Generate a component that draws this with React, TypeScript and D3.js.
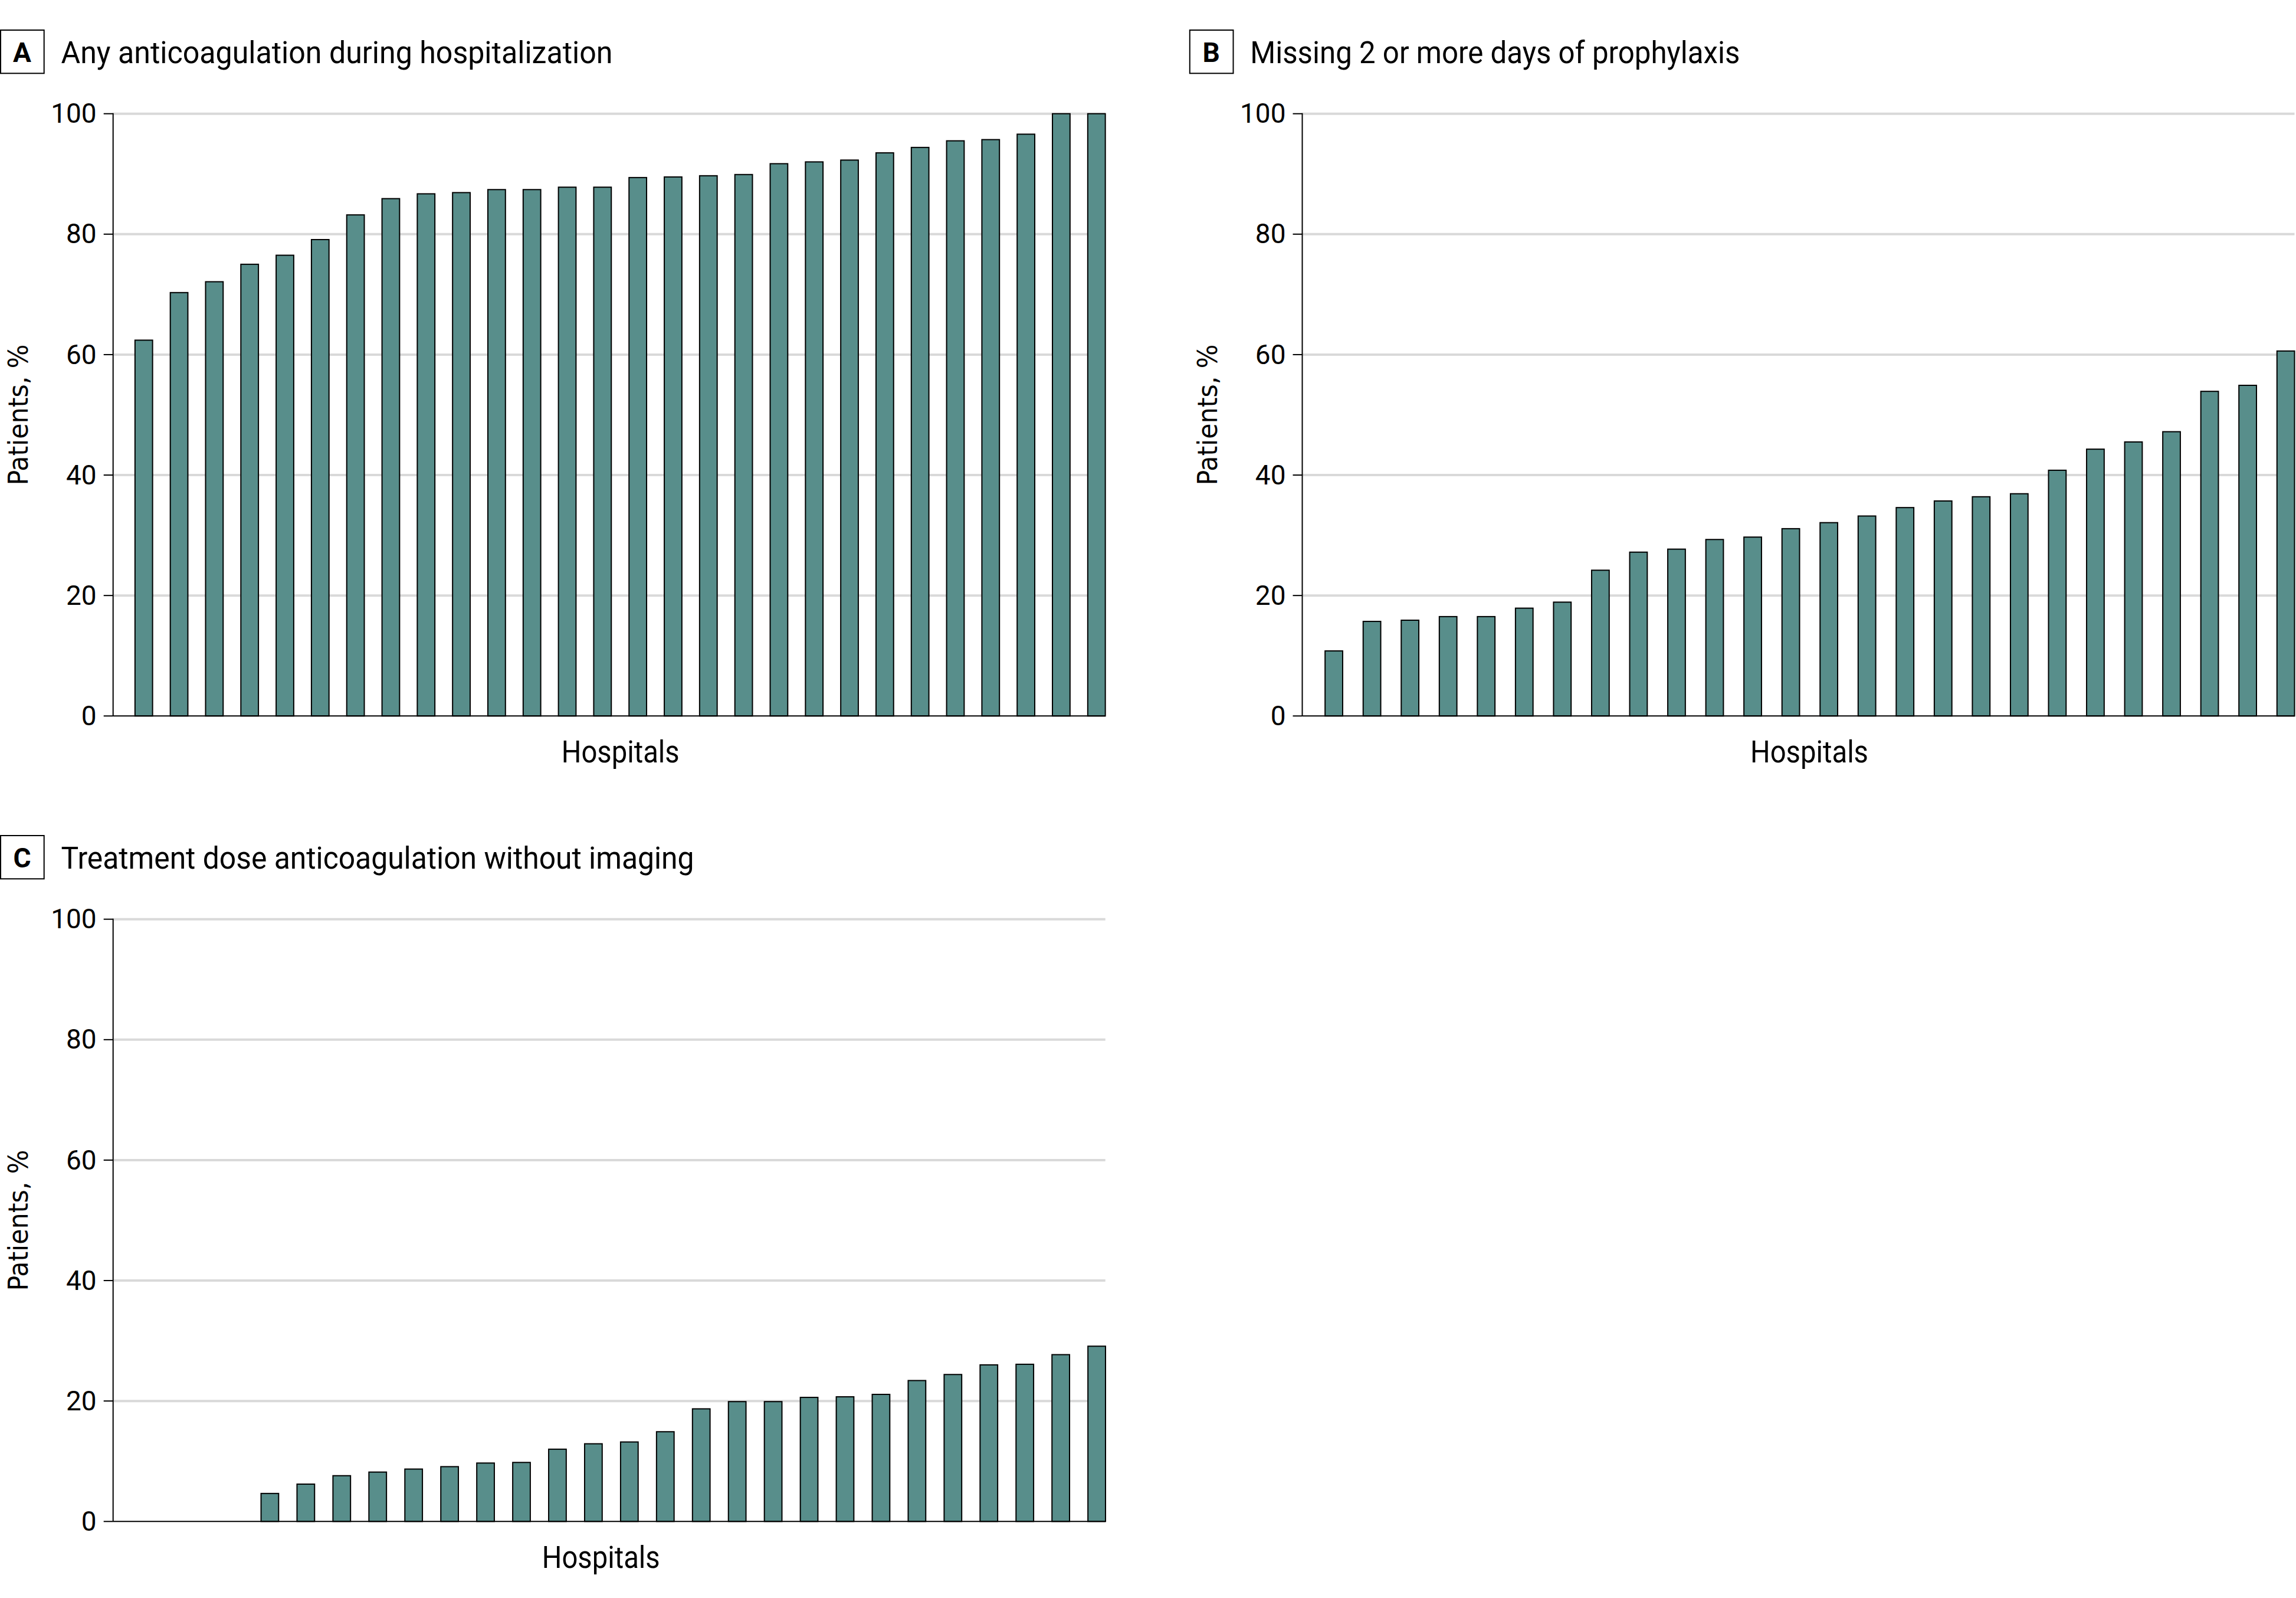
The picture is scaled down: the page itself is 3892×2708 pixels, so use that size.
import React from "react";
import * as d3 from "d3";

// ---------- data ----------
const panelLetters = ["A", "B", "C"];
const panelTitles = [
  "Any anticoagulation during hospitalization",
  "Missing 2 or more days of prophylaxis",
  "Treatment dose anticoagulation without imaging",
];
const yTicks = [0, 20, 40, 60, 80, 100];
const yLabel = "Patients, %";
const xLabel = "Hospitals";

const anyAnticoagulation = [
  62.4, 70.3, 72.1, 75.0, 76.5, 79.1, 83.2, 85.9, 86.7, 86.9, 87.4, 87.4, 87.8, 87.8,
  89.4, 89.5, 89.7, 89.9, 91.7, 92.0, 92.3, 93.5, 94.4, 95.5, 95.7, 96.6, 100, 100,
];
const missingProphylaxis = [
  10.8, 15.7, 15.9, 16.5, 16.5, 17.9, 18.9, 24.2, 27.2, 27.7, 29.3, 29.7, 31.1,
  32.1, 33.2, 34.6, 35.7, 36.4, 36.9, 40.8, 44.3, 45.5, 47.2, 53.9, 54.9, 60.6,
];
const treatmentWithoutImaging = [
  0, 0, 0, 0, 4.65, 6.2, 7.6, 8.2, 8.7, 9.1, 9.7, 9.8, 12.0, 12.9, 13.2, 14.9,
  18.7, 19.9, 19.9, 20.6, 20.7, 21.1, 23.4, 24.4, 26.0, 26.1, 27.7, 29.1,
];
const seriesList = [anyAnticoagulation, missingProphylaxis, treatmentWithoutImaging];

// ---------- layout ----------
const W = 3892;
const H = 2708;
const plotW = 1682;
const plotH = 1020.6;
const barW = 29.8;
const panelLayout = [
  { x0: 191.7, y0: 192.7, domain: [0.13, 28.25], xLabelDx: 860, titleLen: 935 },
  { x0: 2207.5, y0: 192.7, domain: [0.17, 26.23], xLabelDx: 859.5, titleLen: 830 },
  { x0: 191.7, y0: 1557.7, domain: [0.64, 28.24], xLabelDx: 827, titleLen: 1073 },
];

const FILL = "#588e8b";
const GRID = "#d9d9d9";
const NARROW = "'Liberation Sans Narrow', Roboto, 'Liberation Sans', sans-serif";
const TICKFONT = "Roboto, 'Liberation Sans', sans-serif";

function Panel({ idx }: { idx: number }) {
  const L = panelLayout[idx];
  const data = seriesList[idx];
  const x = d3.scaleLinear().domain(L.domain).range([L.x0, L.x0 + plotW]);
  const y = d3.scaleLinear().domain([0, 100]).range([L.y0 + plotH, L.y0]);
  const boxX = L.x0 - 191.7;
  const boxY = L.y0 - 141.7;
  return (
    <g>
      {/* title box */}
      <rect x={boxX + 1} y={boxY} width={73.7} height={73.3} fill="none" stroke="#000" strokeWidth={2} />
      <text x={boxX + 37.5} y={boxY + 54} textAnchor="middle" fontFamily={TICKFONT} fontWeight={700} fontSize={46}>
        {panelLetters[idx]}
      </text>
      <text
        x={boxX + 103.5}
        y={boxY + 55.7}
        fontFamily={NARROW}
        fontSize={51}
        textLength={L.titleLen}
        lengthAdjust="spacingAndGlyphs"
      >
        {panelTitles[idx]}
      </text>
      {/* gridlines */}
      {yTicks.filter((t) => t > 0).map((t) => (
        <line key={"g" + t} x1={L.x0} x2={L.x0 + plotW} y1={y(t)} y2={y(t)} stroke={GRID} strokeWidth={4} />
      ))}
      {/* bars */}
      {data.map((v, i) =>
        v > 0 ? (
          <rect
            key={"b" + i}
            x={x(i + 1) - barW / 2}
            y={y(v)}
            width={barW}
            height={y(0) - y(v)}
            fill={FILL}
            stroke="#000"
            strokeWidth={2}
          />
        ) : null
      )}
      {/* axes */}
      <line x1={L.x0} x2={L.x0} y1={y(100) - 1} y2={y(0)} stroke="#000" strokeWidth={2} />
      <line x1={L.x0} x2={L.x0 + plotW} y1={y(0)} y2={y(0)} stroke="#000" strokeWidth={2} />
      {yTicks.map((t) => (
        <g key={"t" + t}>
          <line x1={L.x0 - 16} x2={L.x0} y1={y(t)} y2={y(t)} stroke="#000" strokeWidth={2} />
          <text x={L.x0 - 28} y={y(t)} dy="0.34em" textAnchor="end" fontFamily={TICKFONT} fontSize={46}>
            {t}
          </text>
        </g>
      ))}
      {/* axis labels */}
      <text
        transform={`translate(${L.x0 - 145},${L.y0 + plotH / 2}) rotate(-90)`}
        textAnchor="middle"
        fontFamily="'DejaVu Sans', Verdana, sans-serif"
        fontSize={46}
        textLength={239}
        lengthAdjust="spacingAndGlyphs"
      >
        {yLabel}
      </text>
      <text
        x={L.x0 + L.xLabelDx}
        y={y(0) + 78.4}
        textAnchor="middle"
        fontFamily={NARROW}
        fontSize={51}
        textLength={200}
        lengthAdjust="spacingAndGlyphs"
      >
        {xLabel}
      </text>
    </g>
  );
}

export default function App() {
  return (
    <svg
      width={W}
      height={H}
      viewBox={`0 0 ${W} ${H}`}
      style={{ position: "absolute", left: 0, top: 0, background: "#fff" }}
    >
      <rect x={0} y={0} width={W} height={H} fill="#fff" />
      {panelLetters.map((_, i) => (
        <Panel key={i} idx={i} />
      ))}
    </svg>
  );
}
